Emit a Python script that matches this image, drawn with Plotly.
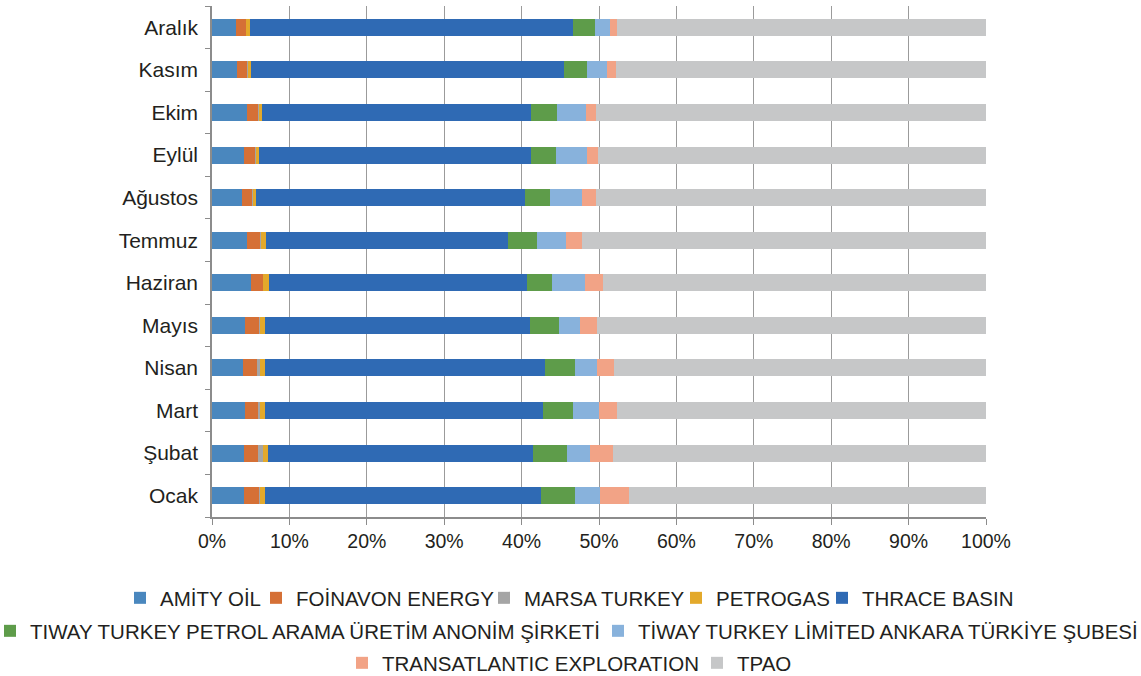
import plotly.graph_objects as go

months = ["Ocak", "Şubat", "Mart", "Nisan", "Mayıs", "Haziran",
          "Temmuz", "Ağustos", "Eylül", "Ekim", "Kasım", "Aralık"]

amity = [4.13, 4.13, 4.2, 4.0, 4.26, 5.04, 4.56, 3.9, 4.13, 4.5, 3.2, 3.1]
foinavon = [1.95, 1.85, 1.75, 1.8, 1.85, 1.55, 1.75, 1.4, 1.55, 1.55, 1.45, 1.3]
marsa = [0.1, 0.6, 0.2, 0.4, 0.05, 0.05, 0.05, 0.05, 0.05, 0.05, 0.05, 0.05]
petrogas = [0.7, 0.7, 0.7, 0.65, 0.7, 0.7, 0.65, 0.35, 0.35, 0.4, 0.35, 0.4]
thrace = [35.7, 34.2, 35.8, 36.2, 34.2, 33.4, 31.3, 34.8, 35.1, 34.7, 40.4, 41.8]
tiway_arama = [4.4, 4.4, 3.9, 3.9, 3.8, 3.2, 3.75, 3.2, 3.2, 3.4, 3.0, 2.9]
tiway_ltd = [3.25, 3.0, 3.35, 2.8, 2.65, 4.25, 3.65, 4.2, 4.1, 3.7, 2.6, 1.9]
transatlantic = [3.65, 2.9, 2.35, 2.15, 2.3, 2.3, 2.15, 1.7, 1.4, 1.3, 1.2, 0.9]
tpao = [46.2, 48.2, 47.6, 48.1, 50.2, 49.5, 52.2, 50.5, 50.1, 50.4, 47.8, 47.7]

x_ticks = [0, 10, 20, 30, 40, 50, 60, 70, 80, 90, 100]
x_tick_labels = ["0%", "10%", "20%", "30%", "40%", "50%",
                 "60%", "70%", "80%", "90%", "100%"]

series = [
    ("AMİTY OİL", amity, "#4A87BE"),
    ("FOİNAVON ENERGY", foinavon, "#D57036"),
    ("MARSA TURKEY", marsa, "#A5A5A5"),
    ("PETROGAS", petrogas, "#E3A92B"),
    ("THRACE BASIN", thrace, "#2F6AB4"),
    ("TIWAY TURKEY PETROL ARAMA ÜRETİM ANONİM ŞİRKETİ", tiway_arama, "#5E9C4A"),
    ("TİWAY TURKEY LİMİTED ANKARA TÜRKİYE ŞUBESİ", tiway_ltd, "#88B2DC"),
    ("TRANSATLANTIC EXPLORATION", transatlantic, "#F2A386"),
    ("TPAO", tpao, "#C6C7C8"),
]

# legend placement: (text start x px, row centre y px)
W, H = 1141, 676
legend_pos = [(160, 598), (296, 598), (524, 598), (716, 598), (862, 598),
              (30, 631), (638, 631), (382, 663), (737, 663)]

FONT = "Liberation Sans, Arial, Helvetica, sans-serif"
TXT = "#231F20"

fig = go.Figure()
layout_legends = {}
for i, (name, vals, col) in enumerate(series):
    lname = "legend" if i == 0 else f"legend{i+1}"
    fig.add_trace(go.Bar(
        y=months, x=vals, name=name, orientation="h",
        marker=dict(color=col, line=dict(width=0)),
        legend=lname,
    ))
    tx, ty = legend_pos[i]
    layout_legends[lname] = dict(
        orientation="h", xref="container", yref="container",
        x=(tx - 30) / W, xanchor="left",
        y=1 - ty / H, yanchor="middle",
        indentation=-10,
        font=dict(family=FONT, size=20.5, color=TXT),
        bgcolor="rgba(0,0,0,0)", borderwidth=0,
        itemclick=False, itemdoubleclick=False,
    )

fig.update_layout(
    width=W, height=H,
    barmode="stack", barnorm="percent", bargap=0.6,
    plot_bgcolor="white", paper_bgcolor="white",
    margin=dict(l=212, r=155, t=6, b=159, autoexpand=False),
    font=dict(family=FONT, size=20, color=TXT),
    showlegend=True,
    **layout_legends,
)

fig.update_xaxes(
    range=[0, 100], tickmode="array", tickvals=x_ticks, ticktext=x_tick_labels,
    showgrid=True, gridcolor="#9B9B9B", gridwidth=1.3,
    showline=True, linecolor="#8C8C8C", linewidth=1.5,
    ticks="outside", ticklen=6, tickcolor="#8C8C8C", tickwidth=1.3,
    tickfont=dict(family=FONT, size=19.5, color=TXT),
    zeroline=False,
)
fig.update_yaxes(
    type="category", categoryorder="array", categoryarray=months,
    showline=True, linecolor="#8C8C8C", linewidth=1.5,
    ticks="outside", ticklen=5, tickcolor="#8C8C8C", tickwidth=1.3,
    tickson="boundaries", ticklabelstandoff=8,
    tickfont=dict(family=FONT, size=21, color=TXT),
    showgrid=False,
)

fig.write_html("out.html", config={"displayModeBar": False},
               post_script="document.body.style.margin='0';")
